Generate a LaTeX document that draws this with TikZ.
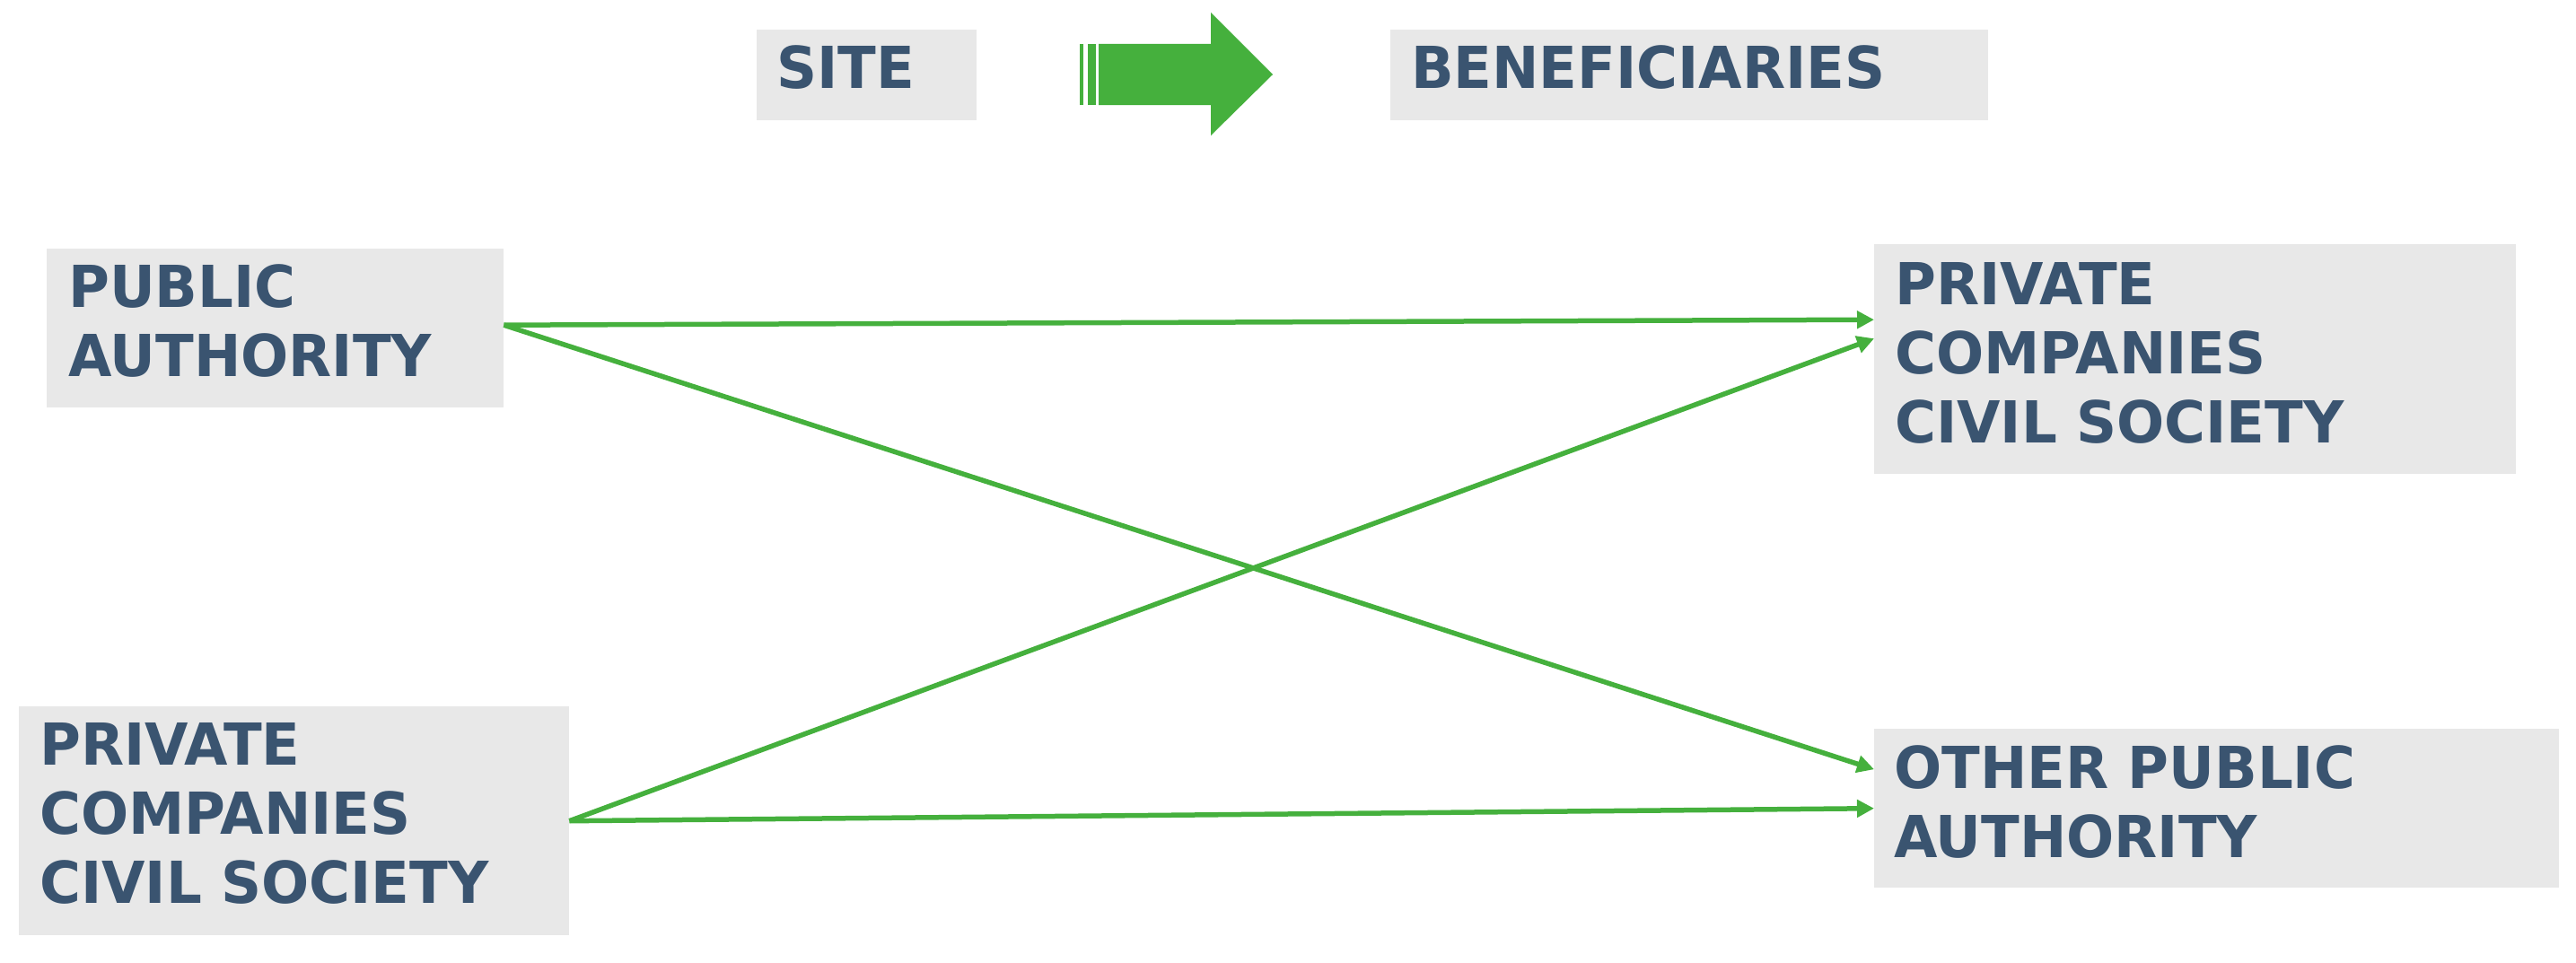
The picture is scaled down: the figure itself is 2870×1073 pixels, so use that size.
\documentclass[tikz,border=0pt]{standalone}
\usepackage{fontspec}
\setmainfont[FakeStretch=0.97]{DejaVu Sans}
\usetikzlibrary{arrows.meta}
\definecolor{arrowgreen}{HTML}{45B03D}
\definecolor{labelblue}{HTML}{3A5470}
\definecolor{boxgray}{HTML}{E8E8E8}
\tikzset{
  boxnode/.style={fill=boxgray, draw=none, inner sep=0pt, anchor=north west},
  lbl/.style={text=labelblue, inner sep=0pt, anchor=base west, text width=760pt, align=left,
    font=\fontsize{64.5}{77}\selectfont\bfseries},
  conn/.style={draw=arrowgreen, line width=5.5pt, -{Triangle[length=19pt,width=19pt]}},
}
\begin{document}
\begin{tikzpicture}[x=1pt,y=-1pt]
\useasboundingbox (0,0) rectangle (2870,1073);
% header
\node[boxnode, minimum width=245pt, minimum height=101pt] (site) at (843,33) {};
\node[boxnode, minimum width=666pt, minimum height=101pt] (ben) at (1549,33) {};
\node[lbl] (sitet) at (865,99) {SITE};
\node[lbl] (bent) at (1572,99) {BENEFICIARIES};
\fill[arrowgreen] (1224,49) -- (1349,49) -- (1349,14) -- (1418,83) -- (1349,151) -- (1349,117) -- (1224,117) -- cycle;
\fill[arrowgreen] (1203,49) rectangle (1207,117);
\fill[arrowgreen] (1212,49) rectangle (1221,117);
% boxes
\node[boxnode, minimum width=509pt, minimum height=177pt] (pa) at (52,277) {};
\node[boxnode, minimum width=613pt, minimum height=255pt] (lb) at (21,787) {};
\node[boxnode, minimum width=715pt, minimum height=256pt] (rt) at (2088,272) {};
\node[boxnode, minimum width=763pt, minimum height=177pt] (rb) at (2088,812) {};
\node[lbl] (pat) at (76,342) {PUBLIC\\AUTHORITY};
\node[lbl] (lbt) at (44,852) {PRIVATE\\COMPANIES\\CIVIL SOCIETY};
\node[lbl] (rtt) at (2111,339) {PRIVATE\\COMPANIES\\CIVIL SOCIETY};
\node[lbl] (rbt) at (2110,878) {OTHER PUBLIC\\AUTHORITY};
% connectors
\draw[conn] ([yshift=3.5pt]pa.east) -- ([yshift=44pt]rt.west);
\draw[conn] ([yshift=3.5pt]pa.east) -- ([yshift=43.5pt]rb.west);
\draw[conn] (lb.east) -- ([yshift=23pt]rt.west);
\draw[conn] (lb.east) -- (rb.west);
\end{tikzpicture}
\end{document}
